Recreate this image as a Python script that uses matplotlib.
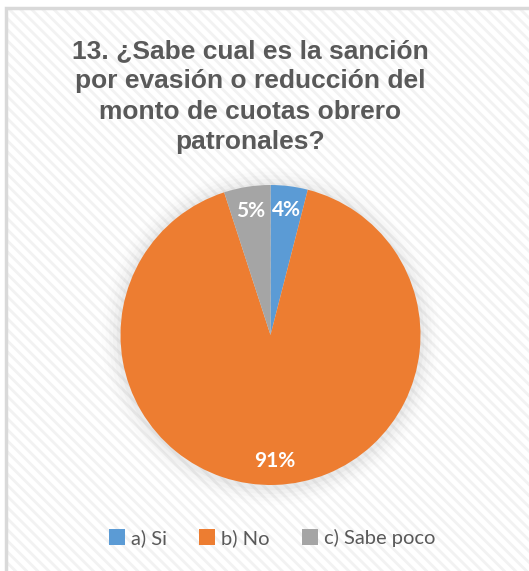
import matplotlib.pyplot as plt
from matplotlib.patches import Rectangle, Circle

categories = ["a) Si", "b) No", "c) Sabe poco"]
values = [4, 91, 5]
colors = ["#5b9bd5", "#ed7d31", "#a5a5a5"]
title = "13. ¿Sabe cual es la sanción\npor evasión o reducción del\nmonto de cuotas obrero\npatronales?"

W, H = 529, 571
plt.rcParams["hatch.linewidth"] = 2.0
fig = plt.figure(figsize=(W / 100, H / 100), dpi=100)
fig.patch.set_facecolor("white")

# striped chart-area background with a light border
bg = Rectangle((6 / W, 0), 1.2, 1 - 8 / H, transform=fig.transFigure,
               facecolor="white", edgecolor="#f2f2f2", hatch="\\\\\\",
               linewidth=0, zorder=-2)
fig.patches.append(bg)
border = Rectangle((6 / W, -0.1), 1.2, 1.1 - 8 / H, transform=fig.transFigure,
                   facecolor="none", edgecolor="#d9d9d9", linewidth=2.5, zorder=-1)
fig.patches.append(border)

fig.text(250 / W, 1 - 39 / H, title, ha="center", va="top", fontsize=19,
         fontweight="bold", color="#595959", family="Liberation Sans",
         linespacing=1.33)

# pie
cx, cy, r = 270.5, 335, 150
ax = fig.add_axes([(cx - r) / W, (H - cy - r) / H, 2 * r / W, 2 * r / H])
ax.set_facecolor("none")
# soft shadow around the pie
for i, a in enumerate([0.05, 0.04, 0.03, 0.02, 0.012]):
    ax.add_patch(Circle((0, -0.01), 1 + 0.025 * (i + 1), color="#808080",
                        alpha=a, lw=0, zorder=0, clip_on=False))
wedges, texts, autotexts = ax.pie(
    values, colors=colors, startangle=90, counterclock=False,
    autopct="%1.0f%%", pctdistance=0.84, radius=1,
    wedgeprops=dict(linewidth=0),
    textprops=dict(color="white", fontsize=15, fontweight="bold", family="Lato"))
for w in wedges:
    w.set_zorder(2)
for t in autotexts:
    t.set_zorder(3)
ax.set_xlim(-1.0, 1.0)
ax.set_ylim(-1.0, 1.0)
ax.axis("off")

leg = fig.legend(wedges, categories, loc="center", ncol=3,
                 bbox_to_anchor=(272 / W, 1 - 538 / H), frameon=False,
                 handlelength=0.8, handleheight=0.8, handletextpad=0.3,
                 columnspacing=1.6,
                 prop=dict(family="Lato", size=14.5))
for t in leg.get_texts():
    t.set_color("#595959")

fig.savefig("out.png", dpi=100)
